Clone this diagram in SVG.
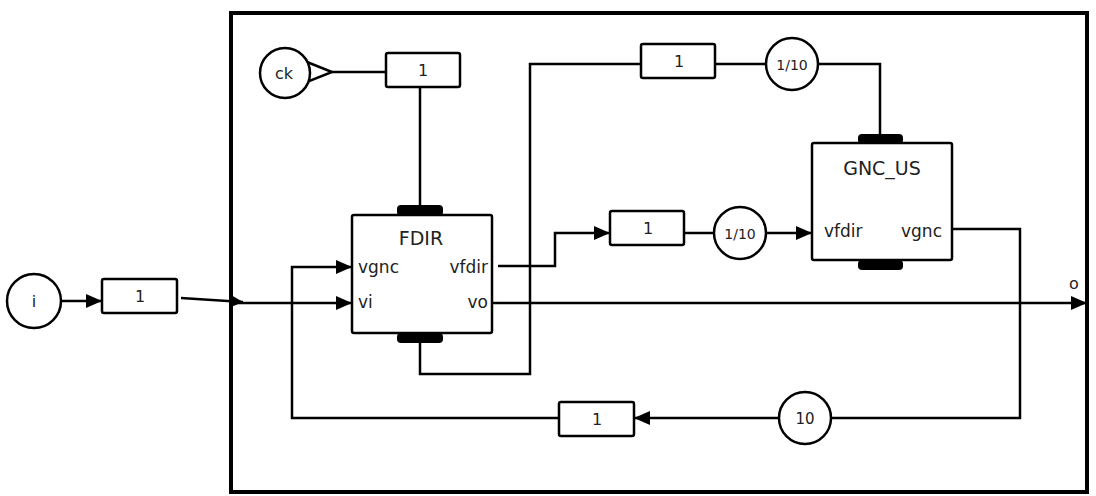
<svg xmlns="http://www.w3.org/2000/svg" width="1096" height="496" viewBox="0 0 1096 496">
<defs>
<style>
.ln{fill:none;stroke:#000;stroke-width:2.5;stroke-linejoin:miter}
.box{fill:#fff;stroke:#000;stroke-width:2.5}
.port{fill:#000;stroke:none}
.t{font-family:"DejaVu Sans","Liberation Sans",sans-serif;fill:#222;font-size:16px}
.p{font-size:17px}
.h{font-size:19px}
.c{text-anchor:middle}
.e{text-anchor:end}
</style>
<marker id="ah" viewBox="0 0 16 14" refX="16" refY="7" markerWidth="16" markerHeight="14" markerUnits="userSpaceOnUse" orient="auto">
<path d="M0,0 L16,7 L0,14 Z" fill="#000"/>
</marker>
<marker id="ahs" viewBox="0 0 12 12" refX="12" refY="6" markerWidth="12" markerHeight="12" markerUnits="userSpaceOnUse" orient="auto">
<path d="M0,0 L12,6 L0,12 Z" fill="#000"/>
</marker>
</defs>
<rect width="1096" height="496" fill="#fff"/>
<g id="frame"><rect x="231" y="13" width="856" height="479" fill="none" stroke="#000" stroke-width="4"/></g>
<g id="connectors">
<path class="ln" d="M61,301 L102,301" marker-end="url(#ah)"/>
<path class="ln" d="M181,298 L243,302" marker-end="url(#ahs)"/>
<path class="ln" d="M232,303 L352,303" marker-end="url(#ah)"/>
<path class="ln" d="M332,72 L385,72"/>
<path class="ln" d="M420,87 L420,205"/>
<path class="ln" d="M498,266 L555,266 L555,233 L610,233" marker-end="url(#ah)"/>
<path class="ln" d="M684,233 L714,233"/>
<path class="ln" d="M766,233 L812,233" marker-end="url(#ah)"/>
<path class="ln" d="M420,343 L420,374 L530,374 L530,64 L641,64"/>
<path class="ln" d="M715,64 L766,64"/>
<path class="ln" d="M818,64 L880,64 L880,134"/>
<path class="ln" d="M492,303 L1087,303" marker-end="url(#ah)"/>
<path class="ln" d="M953,229 L1020,229 L1020,418 L831,418"/>
<path class="ln" d="M779,418 L634,418" marker-end="url(#ah)"/>
<path class="ln" d="M559,418 L292,418 L292,267 L352,267" marker-end="url(#ah)"/>
</g>
<g id="in_i"><circle cx="34" cy="301" r="27" class="box"/><text class="t c" x="34" y="307">i</text></g>
<g id="delay_in"><rect x="102" y="279" width="75" height="34" rx="2" class="box"/><text class="t c" x="140" y="302">1</text></g>
<g id="ck"><path d="M307,62 L332,72 L307,82 Z" fill="#fff" stroke="#000" stroke-width="2.5" stroke-linejoin="miter"/><circle cx="285" cy="73" r="25" class="box"/><text class="t c" x="284" y="79">ck</text></g>
<g id="delay_ck"><rect x="386" y="53" width="74" height="34" rx="2" class="box"/><text class="t c" x="423" y="76">1</text></g>
<g id="FDIR">
<rect x="397" y="205" width="46" height="11" rx="4" class="port"/>
<rect x="397" y="333" width="46" height="10" rx="4" class="port"/>
<rect x="352" y="215" width="140" height="118" rx="2" class="box"/>
<text class="t c h" x="421" y="245">FDIR</text>
<text class="t p" x="358" y="273">vgnc</text>
<text class="t p" x="358" y="308">vi</text>
<text class="t e p" x="488" y="273">vfdir</text>
<text class="t e p" x="488" y="308">vo</text>
</g>
<g id="delay_top"><rect x="641" y="44" width="74" height="34" rx="2" class="box"/><text class="t c" x="679" y="67">1</text></g>
<g id="div_top"><circle cx="792" cy="64" r="26" class="box"/><text class="t c" x="792" y="70" style="font-size:14px">1/10</text></g>
<g id="delay_mid"><rect x="610" y="211" width="74" height="34" rx="2" class="box"/><text class="t c" x="648" y="234">1</text></g>
<g id="div_mid"><circle cx="740" cy="233" r="26" class="box"/><text class="t c" x="740" y="239" style="font-size:14px">1/10</text></g>
<g id="GNC_US">
<rect x="858" y="134" width="45" height="10" rx="4" class="port"/>
<rect x="858" y="260" width="45" height="10" rx="4" class="port"/>
<rect x="812" y="143" width="140" height="117" rx="2" class="box"/>
<text class="t c h" x="882" y="175">GNC_US</text>
<text class="t p" x="824" y="237">vfdir</text>
<text class="t e p" x="942" y="237">vgnc</text>
</g>
<g id="mul10"><circle cx="805" cy="418" r="26" class="box"/><text class="t c" x="805" y="424" style="font-size:15px">10</text></g>
<g id="delay_bot"><rect x="559" y="402" width="75" height="34" rx="2" class="box"/><text class="t c" x="597" y="425">1</text></g>
<g id="out_o"><text class="t c" x="1074" y="289">o</text></g>
</svg>
